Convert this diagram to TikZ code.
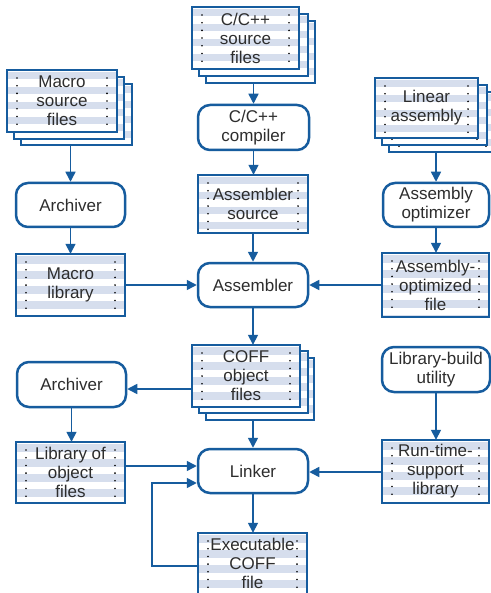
\documentclass[tikz,border=0pt]{standalone}
\usepackage{fontspec}
\setmainfont{Liberation Sans}
\usetikzlibrary{arrows.meta}
\definecolor{bordc}{RGB}{22,92,158}
\definecolor{stripec}{RGB}{214,222,237}
\definecolor{txtc}{RGB}{45,45,45}
\tikzset{
  proc/.style={draw=bordc, line width=2.5pt, rounded corners=12pt, fill=white,
    align=center, text=txtc, font=\fontsize{17}{19}\selectfont, inner sep=0pt},
  sheettext/.style={align=center, text=txtc, font=\fontsize{17}{19}\selectfont, inner sep=0pt},
  sheetline/.style={draw=bordc, line width=1.1pt},
  conn/.style={draw=bordc, line width=1.5pt, -{Triangle[length=10pt,width=10pt]}},
  connplain/.style={draw=bordc, line width=1.5pt}
}
\newcommand{\mysheet}[6]{%
  \fill[white] (#2,#3) rectangle (#4,#5);
  \begin{scope}
    \clip (#2,#3) rectangle (#4,#5);
    \foreach \k in {0,...,5} {\fill[stripec] (#2,#3+2+\k*15) rectangle (#4,#3+9.5+\k*15);}
  \end{scope}
  \foreach \d in {0,...,6} {
    \fill[black] (#2+10,#3+8+\d*7.7) circle[radius=0.9pt];
    \fill[black] (#4-10,#3+8+\d*7.7) circle[radius=0.9pt];}
  \draw[sheetline] (#2,#3) rectangle (#4,#5);
  \node[sheettext, minimum width={(#4-#2)*1pt}, minimum height={(#5-#3)*1pt}] (#1) at ({(#2+#4)/2},{(#3+#5)/2}) {#6};
}
\begin{document}
\begin{tikzpicture}[x=1pt,y=-1pt]
\useasboundingbox[fill=white] (0,0) rectangle (490,593);

% C/C++ source files stack
\mysheet{srcc}{206}{21}{315}{83}{}
\mysheet{srcb}{199}{14}{308}{76}{}
\mysheet{src}{192}{7}{299}{69}{C/C++\\source\\files}

% Macro source files stack
\mysheet{macc}{21}{84}{132}{145}{}
\mysheet{macb}{14}{77}{124}{139}{}
\mysheet{mac}{7}{70}{117}{132}{Macro\\source\\files}

% Linear assembly stack
\mysheet{linc}{389}{92}{496}{152}{}
\mysheet{linb}{382}{85}{487}{145}{}
\mysheet{lin}{375}{78}{478}{138}{Linear\\assembly}

% Rounded process boxes
\node[proc, minimum width=111pt, minimum height=45pt] (compiler) at (253.5,127.5) {C/C++\\compiler};
\node[proc, minimum width=109pt, minimum height=44pt] (arch1) at (70.5,205) {Archiver};
\node[proc, minimum width=110pt, minimum height=44pt] (assembler) at (253,285) {Assembler};
\node[proc, minimum width=106pt, minimum height=44pt] (optim) at (436,205) {Assembly\\optimizer};
\node[proc, minimum width=109pt, minimum height=45pt] (arch2) at (71.5,384.5) {Archiver};
\node[proc, minimum width=110pt, minimum height=44pt] (linker) at (253,471) {Linker};
\node[proc, minimum width=108pt, minimum height=45pt] (libbuild) at (436,369.5) {Library-build\\utility};

% Single sheets
\mysheet{asmsrc}{198}{175}{308}{233}{Assembler\\source}
\mysheet{maclib}{16}{254}{125}{316}{Macro\\library}
\mysheet{optfile}{382}{253}{489}{317}{Assembly-\\optimized\\file}
\mysheet{libobj}{16}{442}{125}{503}{Library of\\object\\files}
\mysheet{rts}{382}{440}{489}{503}{Run-time-\\support\\library}
\mysheet{exe}{198}{533}{307}{600}{}
\node[sheettext] (exetext) at (252.5,563) {Executable\\COFF\\file};

% COFF object files stack
\mysheet{coffc}{206}{358}{314}{420}{}
\mysheet{coffb}{199}{351}{308}{413}{}
\mysheet{coff}{192}{345}{300}{407}{COFF\\object\\files}

% Connectors
\draw[conn] (srcc.south -| compiler.north) -- (compiler.north);
\draw[conn] (compiler.south) -- (compiler.south |- asmsrc.north);
\draw[conn] (asmsrc.south -| assembler.north) -- (assembler.north);
\draw[conn] (macc.south -| arch1.north) -- (arch1.north);
\draw[conn] (arch1.south) -- (arch1.south |- maclib.north);
\draw[conn] (maclib.east) -- (assembler.west);
\draw[conn] (optfile.west) -- (assembler.east);
\draw[conn] (linc.south -| optim.north) -- (optim.north);
\draw[conn] (optim.south) -- (optim.south |- optfile.north);
\draw[conn] (assembler.south) -- (assembler.south |- coff.north);
\coordinate (c1) at (192,389);
\draw[conn] (c1) -- (c1 -| arch2.east);
\draw[conn] (arch2.south) -- (arch2.south |- libobj.north);
\coordinate (l1) at (125,466);
\draw[conn] (l1) -- (l1 -| linker.west);
\draw[conn] (coffc.south -| linker.north) -- (linker.north);
\coordinate (r1) at (382,472);
\draw[conn] (r1) -- (r1 -| linker.east);
\draw[conn] (libbuild.south) -- (libbuild.south |- rts.north);
\draw[conn] (linker.south) -- (linker.south |- exe.north);
\coordinate (fb1) at (198,566);
\coordinate (fb2) at (152,483);
\draw[conn] (fb1) -| (fb2) -- (fb2 -| linker.west);
\end{tikzpicture}
\end{document}
